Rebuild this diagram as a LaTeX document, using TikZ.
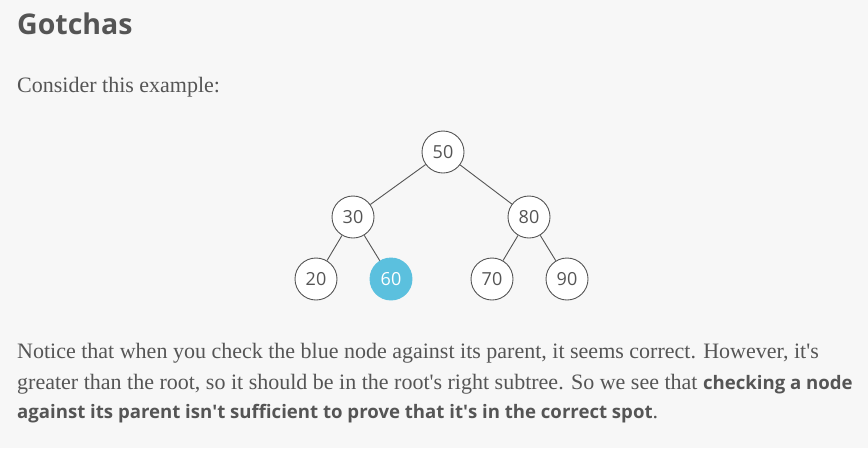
\documentclass[tikz,border=0pt]{standalone}
\usepackage{fontspec}
\setmainfont{Liberation Serif}
\setsansfont{Open Sans}
\definecolor{pagebg}{HTML}{F7F7F7}
\definecolor{inkgray}{HTML}{555555}
\definecolor{hiblue}{HTML}{5BC0DE}
\newcommand{\boldsans}[1]{{\sffamily\bfseries\fontsize{18.6}{24}\selectfont #1}}
\begin{document}
\begin{tikzpicture}[x=1pt, y=-1pt]
\tikzset{ treenode/.style={circle, draw=inkgray, fill=white, line width=0.9pt, minimum size=42pt, inner sep=0pt, text=inkgray, font=\sffamily\fontsize{18}{18}\selectfont},
  bluenode/.style={treenode, draw=hiblue, fill=hiblue, text=white},
  para/.style={anchor=base west, inner sep=0pt, text=inkgray, font=\fontsize{22}{26}\selectfont},
  edge/.style={draw=inkgray, line width=0.9pt} }

\fill [pagebg] (0,0) rectangle (868,448);
\useasboundingbox (0,0) rectangle (868,448);

% heading
\node [anchor=base west, inner sep=0pt, text=inkgray, font=\sffamily\bfseries\fontsize{28.5}{29}\selectfont] (title) at (17,34) {Gotchas};
\node [para] (intro) at (17,92) {Consider this example:};

% the tree
\node [treenode] (n50) at (443,152) {50};
\node [treenode] (n30) at (353,217) {30};
\node [treenode] (n80) at (529,217) {80};
\node [treenode] (n20) at (316,279) {20};
\node [bluenode] (n60) at (391,279) {60};
\node [treenode] (n70) at (492,279) {70};
\node [treenode] (n90) at (567,279) {90};

\draw [edge] (n50) -- (n30);
\draw [edge] (n50) -- (n80);
\draw [edge] (n30) -- (n20);
\draw [edge] (n30) -- (n60);
\draw [edge] (n80) -- (n70);
\draw [edge] (n80) -- (n90);

% explanation
\node [para] (lineA) at (17,358) {Notice that when you check the blue node against its parent, it seems correct. However, it\textquotesingle s};
\node [para] (lineB) at (17,389) {greater than the root, so it should be in the root\textquotesingle s right subtree. So we see that \boldsans{checking a node}};
\node [para] (lineC) at (17,418) {\boldsans{against its parent isn\textquotesingle t sufficient to prove that it\textquotesingle s in the correct spot}.};

\end{tikzpicture}
\end{document}
